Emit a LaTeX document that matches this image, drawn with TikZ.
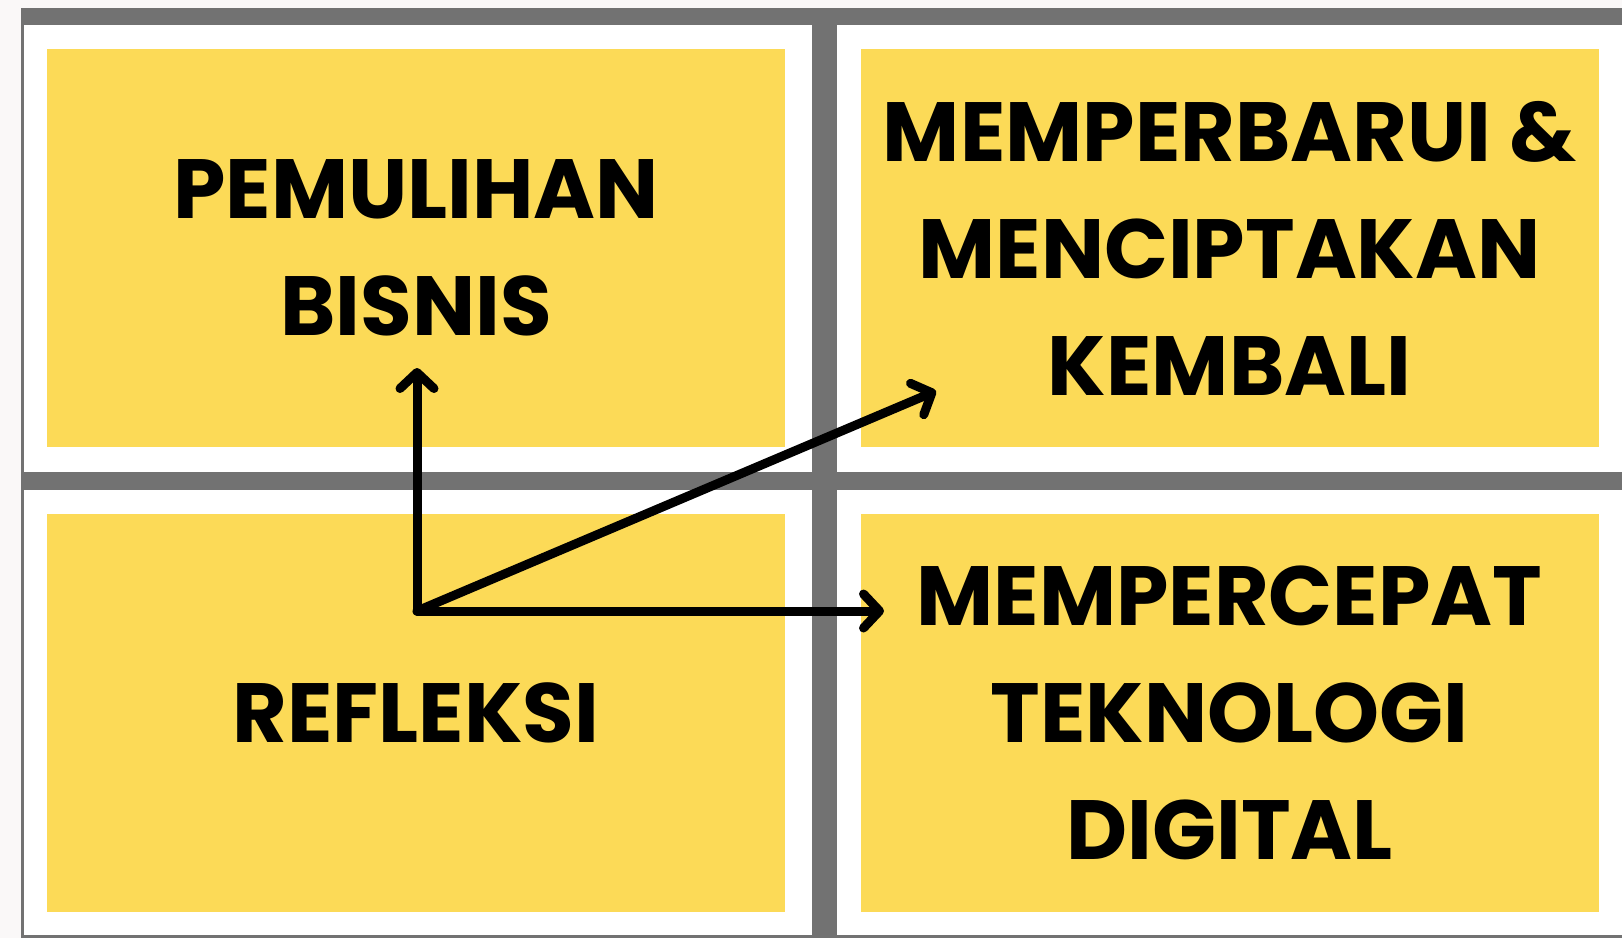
\documentclass[tikz,border=0pt]{standalone}
\usepackage{fontspec}
\setmainfont{Poppins}
\usetikzlibrary{arrows.meta}
\definecolor{frame}{HTML}{727272}
\definecolor{ybox}{HTML}{FCDA57}
\definecolor{outside}{HTML}{FAF8F8}
\tikzset{
  ybox/.style={fill=ybox, draw=none, inner sep=0pt, minimum width=738pt, minimum height=398pt,
    align=center, text=black, font=\fontsize{84}{117}\selectfont\bfseries},
  grayband/.style={fill=frame, draw=none},
  arr/.style={draw=black, line width=9pt, line cap=round, line join=round, -{Straight Barb[length=16pt,width=34pt,line cap=round,line join=round]}}
}
\begin{document}
\begin{tikzpicture}[x=1pt,y=-1pt]
\useasboundingbox (0,0) rectangle (1622,938);
\fill[outside] (0,0) rectangle (1622,938);
\fill[white] (21,8) rectangle (1622,938);
% frame
\fill[grayband] (21,8) rectangle (1622,25);
\fill[grayband] (21,8) rectangle (24,938);
\fill[grayband] (21,935) rectangle (1622,938);
\fill[grayband] (812,8) rectangle (837,938);
\fill[grayband] (21,472) rectangle (1622,490);
% boxes
\node[ybox] (tl) at (416,248) {PEMULIHAN\\BISNIS};
\node[ybox] (tr) at (1229.5,248) {MEMPERBARUI \&\\MENCIPTAKAN\\KEMBALI};
\node[ybox] (bl) at (416,713) {REFLEKSI};
\node[ybox] (br) at (1229.5,713) {MEMPERCEPAT\\TEKNOLOGI\\DIGITAL};
% arrows
\coordinate (o) at (417,611);
\coordinate (up) at (417,368);
\coordinate (diag) at (936,391);
\coordinate (right) at (884,611);
\draw[arr] (o) -- (up);
\draw[arr] (o) -- (diag);
\draw[arr] (o) -- (right);
\end{tikzpicture}
\end{document}
